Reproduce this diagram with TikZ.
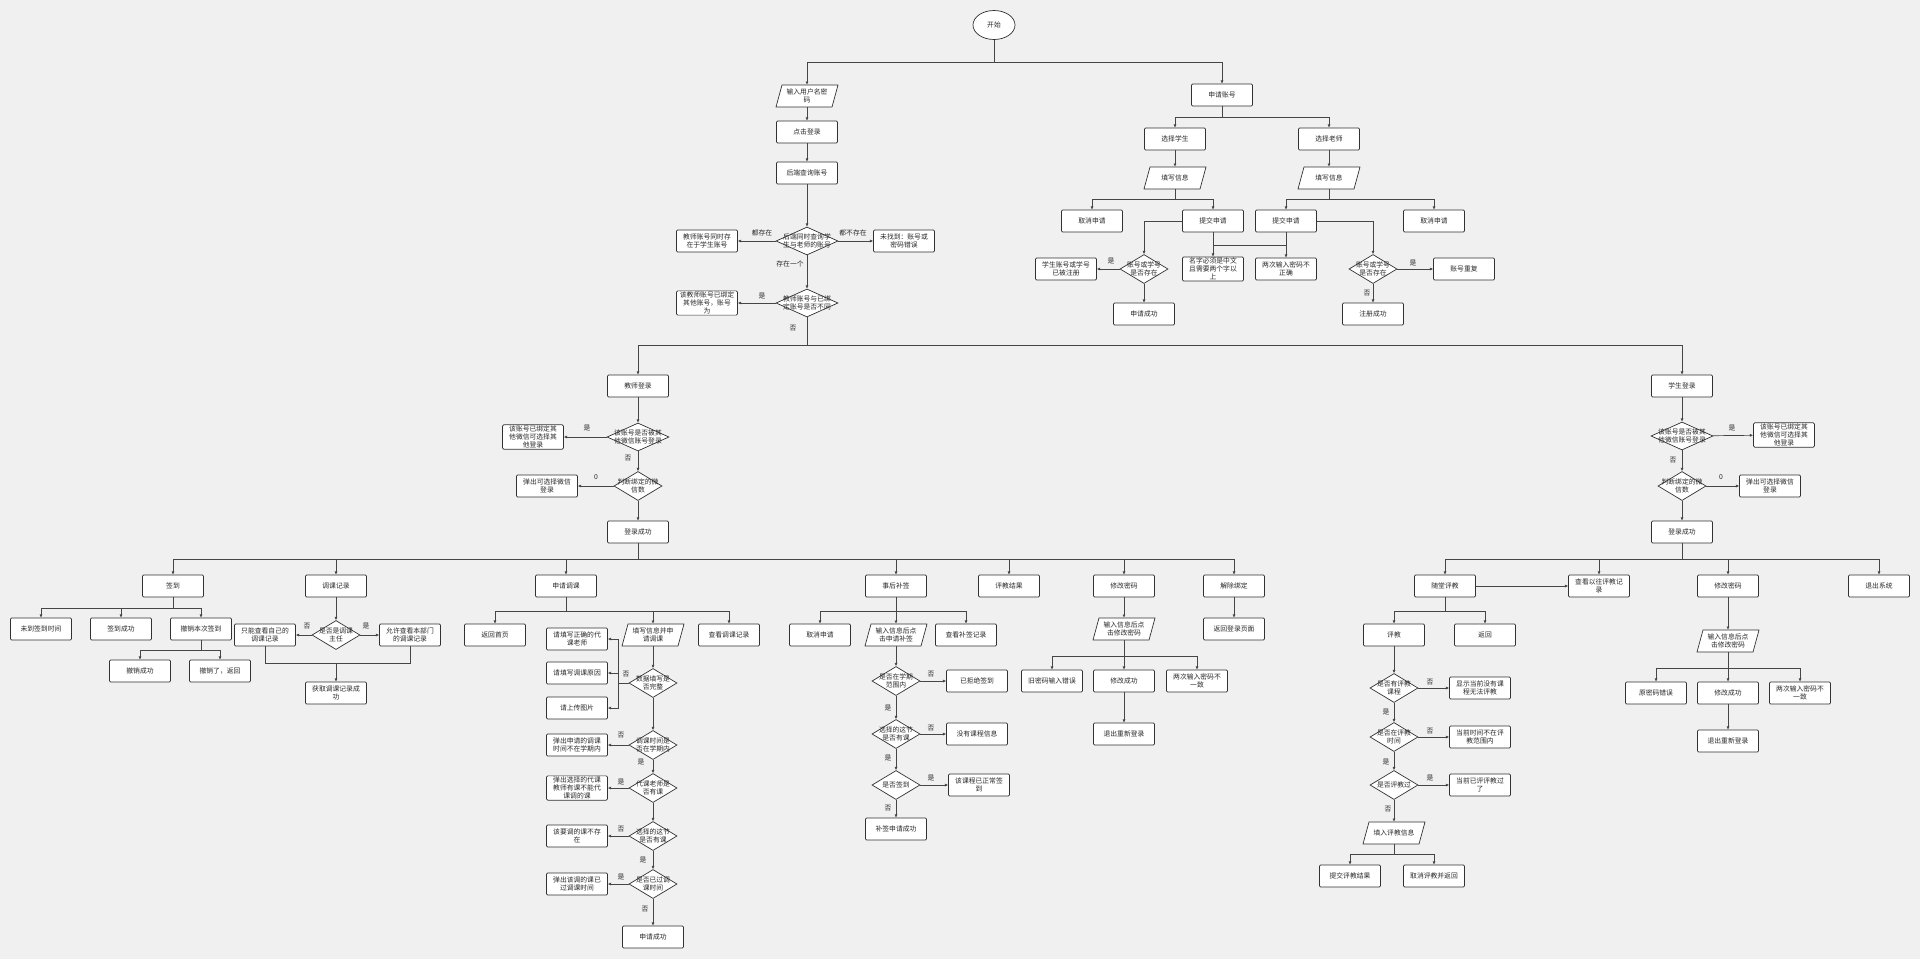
\documentclass[tikz,border=0pt]{standalone}
\usepackage{fontspec}
\newfontfamily\cjk{Noto Sans CJK SC}
\usetikzlibrary{shapes.geometric,arrows.meta}
\definecolor{bgc}{RGB}{240,240,240}
\definecolor{boxc}{RGB}{50,50,50}
\definecolor{linec}{RGB}{70,70,70}
\definecolor{txtc}{RGB}{40,40,40}
\newcommand\fs{\cjk\fontsize{6.8}{8}\selectfont}
\newcommand\para[4]{\filldraw[fill=white,draw=boxc,line width=0.7pt] ({#2-25},{#3-11}) -- ({#2+31},{#3-11}) -- ({#2+25},{#3+11}) -- ({#2-31},{#3+11}) -- cycle; \node[ptxt] (#1) at (#2,#3) {#4};}
\newcommand\dianode[5][dia]{\node[#1] (#2) at (#3,#4) {}; \node[dtxt] (#2t) at (#3,#4) {#5};}
\begin{document}
\begin{tikzpicture}[x=1pt,y=-1pt,
 box/.style={draw=boxc,fill=white,line width=0.7pt,rounded corners=1.2pt,minimum width=61pt,minimum height=22pt,inner sep=1pt,align=center,font=\fs,text=txtc},
 ell/.style={ellipse,draw=boxc,fill=white,line width=0.7pt,minimum width=42pt,minimum height=29pt,inner sep=0pt,font=\fs,text=txtc},
 dia/.style={diamond,draw=boxc,fill=white,line width=0.7pt,minimum width=62pt,minimum height=28pt,inner sep=0pt},
 sdia/.style={dia,minimum width=48pt,minimum height=29pt},
 dtxt/.style={inner sep=0pt,align=center,font=\fs,text=txtc},
 ptxt/.style={minimum width=62pt,minimum height=22pt,inner sep=0pt,align=center,font=\fs,text=txtc},
 lbl/.style={inner sep=0pt,font=\fs,text=txtc},
 arr/.style={draw=linec,line width=0.7pt,-{Latex[length=3.2pt,width=3pt]}},
 ln/.style={draw=linec,line width=0.7pt},
]
\fill[bgc] (0,0) rectangle (1920,959);
\useasboundingbox (0,0) rectangle (1920,959);

% ---------- top ----------
\node[ell] (start) at (994,25) {开始};
\coordinate (j0) at (994,62);
\draw[ln] (start) -- (j0);
\para{in1}{807}{96}{输入用户名密\\码}
\node[box] (click) at (807,132) {点击登录};
\node[box] (query) at (807,173) {后端查询账号};
\dianode{q1}{807}{241}{后端同时查询学\\生与老师的账号}
\node[box] (both) at (707,241) {教师账号同时存\\在于学生账号};
\node[box] (nf) at (904,241) {未找到：账号或\\密码错误};
\dianode{q2}{807}{303}{教师账号与已绑\\定账号是否不同}
\node[box] (bound) at (707,303) {该教师账号已绑定\\其他账号，账号\\为};
\draw[arr] (j0) -| (in1);
\draw[arr] (in1) -- (click);
\draw[arr] (click) -- (query);
\draw[arr] (query) -- (q1);
\draw[arr] (q1) -- (both);
\draw[arr] (q1) -- (nf);
\draw[arr] (q1) -- (q2);
\draw[arr] (q2) -- (bound);
\node[lbl] (l1) at (762,233) {都存在};
\node[lbl] (l2) at (853,233) {都不存在};
\node[lbl] (l3) at (790,264) {存在一个};
\node[lbl] (l4) at (762,296) {是};
\node[lbl] (l5) at (793,328) {否};
\coordinate (j1) at (807,345);
\draw[ln] (q2) -- (j1);

% ---------- apply account ----------
\node[box] (apply) at (1222,95) {申请账号};
\draw[arr] (j0) -| (apply);
\coordinate (j4) at (1222,117);
\node[box] (selS) at (1175,139) {选择学生};
\node[box] (selT) at (1329,139) {选择老师};
\draw[ln] (apply) -- (j4);
\draw[arr] (j4) -| (selS);
\draw[arr] (j4) -| (selT);
\para{fillS}{1175}{178}{填写信息}
\para{fillT}{1329}{178}{填写信息}
\draw[arr] (selS) -- (fillS);
\draw[arr] (selT) -- (fillT);
\coordinate (j5) at (1175,199);
\coordinate (j6) at (1329,199);
\node[box] (canS) at (1092,221) {取消申请};
\node[box] (subS) at (1213,221) {提交申请};
\node[box] (subT) at (1286,221) {提交申请};
\node[box] (canT) at (1434,221) {取消申请};
\draw[ln] (fillS) -- (j5);
\draw[ln] (fillT) -- (j6);
\draw[arr] (j5) -| (canS);
\draw[arr] (j5) -| (subS);
\draw[arr] (j6) -| (subT);
\draw[arr] (j6) -| (canT);
\dianode[sdia]{sd3}{1144}{269}{账号或学号\\是否存在}
\node[box] (sreg) at (1066,269) {学生账号或学号\\已被注册};
\node[box] (sok3) at (1144,314) {申请成功};
\node[box] (name) at (1213,269) {名字必须是中文\\且需要两个字以\\上};
\node[box] (pwd2) at (1286,269) {两次输入密码不\\正确};
\dianode[sdia]{td3}{1373}{269}{账号或学号\\是否存在}
\node[box] (dup) at (1464,269) {账号重复};
\node[box] (tok3) at (1373,314) {注册成功};
\draw[arr] (subS) -| (sd3);
\draw[arr] (sd3) -- (sreg);
\draw[arr] (sd3) -- (sok3);
\draw[arr] (subS) -- (name);
\draw[arr] (subT) -- (pwd2);
\coordinate (jn1) at (1213,245);
\coordinate (jn2) at (1286,245);
\draw[ln] (jn1) -- (jn2);
\draw[arr] (subT) -| (td3);
\draw[arr] (td3) -- (dup);
\draw[arr] (td3) -- (tok3);
\node[lbl] (l6) at (1111,261) {是};
\node[lbl] (l7) at (1413,263) {是};
\node[lbl] (l8) at (1367,293) {否};

% ---------- teacher login ----------
\node[box] (tlogin) at (638,386) {教师登录};
\node[box] (slogin) at (1682,386) {学生登录};
\draw[arr] (j1) -| (tlogin);
\draw[arr] (j1) -| (slogin);
\dianode{td1}{638}{437}{该账号是否被其\\他微信账号登录}
\node[box] (tb1) at (533,437) {该账号已绑定其\\他微信可选择其\\他登录};
\dianode[sdia]{td2}{638}{486}{判断绑定的微\\信数}
\node[box] (tb2) at (547,486) {弹出可选择微信\\登录};
\node[box] (tok) at (638,532) {登录成功};
\draw[arr] (tlogin) -- (td1);
\draw[arr] (td1) -- (tb1);
\draw[arr] (td1) -- (td2);
\draw[arr] (td2) -- (tb2);
\draw[arr] (td2) -- (tok);
\node[lbl] (l9) at (587,428) {是};
\node[lbl] (l10) at (628,458) {否};
\node[lbl] (l11) at (596,477) {0};

% ---------- student login ----------
\dianode{sd1}{1682}{436}{该账号是否被其\\他微信账号登录}
\node[box] (sb1) at (1784,435) {该账号已绑定其\\他微信可选择其\\他登录};
\dianode[sdia]{sd2}{1682}{486}{判断绑定的微\\信数}
\node[box] (sb2) at (1770,486) {弹出可选择微信\\登录};
\node[box] (sok) at (1682,532) {登录成功};
\draw[arr] (slogin) -- (sd1);
\draw[arr] (sd1) -- (sb1);
\draw[arr] (sd1) -- (sd2);
\draw[arr] (sd2) -- (sb2);
\draw[arr] (sd2) -- (sok);
\node[lbl] (l12) at (1732,428) {是};
\node[lbl] (l13) at (1673,460) {否};
\node[lbl] (l14) at (1721,477) {0};

% ---------- teacher menu ----------
\coordinate (j2) at (638,559);
\draw[ln] (tok) -- (j2);
\node[box] (sign) at (173,586) {签到};
\node[box] (trec) at (336,586) {调课记录};
\node[box] (tapp) at (566,586) {申请调课};
\node[box] (late) at (896,586) {事后补签};
\node[box] (eres) at (1009,586) {评教结果};
\node[box] (tpw) at (1124,586) {修改密码};
\node[box] (unb) at (1234,586) {解除绑定};
\foreach \n in {sign,trec,tapp,late,eres,tpw,unb} {\draw[arr] (j2) -| (\n);}

% sign in
\coordinate (js) at (173,608);
\draw[ln] (sign) -- (js);
\node[box] (s1) at (41,629) {未到签到时间};
\node[box] (s2) at (121,629) {签到成功};
\node[box] (s3) at (201,629) {撤销本次签到};
\foreach \n in {s1,s2,s3} {\draw[arr] (js) -| (\n);}
\coordinate (js3) at (201,650);
\draw[ln] (s3) -- (js3);
\node[box] (s31) at (140,671) {撤销成功};
\node[box] (s32) at (220,671) {撤销了，返回};
\draw[arr] (js3) -| (s31);
\draw[arr] (js3) -| (s32);

% adjust record
\dianode[sdia]{tc}{336}{635}{是否是调课\\主任}
\node[box] (only) at (265,635) {只能查看自己的\\调课记录};
\node[box] (allow) at (410,635) {允许查看本部门\\的调课记录};
\node[box] (get) at (336,693) {获取调课记录成\\功};
\draw[arr] (trec) -- (tc);
\draw[arr] (tc) -- (only);
\draw[arr] (tc) -- (allow);
\coordinate (jm) at (336,663);
\draw[ln] (only.south) |- (jm);
\draw[ln] (allow.south) |- (jm);
\draw[arr] (jm) -- (get);
\node[lbl] (l15) at (307,626) {否};
\node[lbl] (l16) at (366,626) {是};

% apply adjustment
\coordinate (ja) at (566,611);
\draw[ln] (tapp) -- (ja);
\node[box] (ret) at (495,635) {返回首页};
\para{afill}{653}{635}{填写信息并申\\请调课}
\node[box] (aview) at (729,635) {查看调课记录};
\draw[arr] (ja) -| (ret);
\draw[arr] (ja) -| (afill);
\draw[arr] (ja) -| (aview);
\dianode[sdia]{a1}{653}{683}{数据填写是\\否完整}
\node[box] (ab1) at (577,639) {请填写正确的代\\课老师};
\node[box] (ab2) at (577,673) {请填写调课原因};
\node[box] (ab3) at (577,708) {请上传图片};
\draw[arr] (afill) -- (a1);
\coordinate (ja1) at (618,683);
\draw[ln] (a1) -- (ja1);
\draw[arr] (ja1) |- (ab1);
\draw[arr] (ja1) |- (ab2);
\draw[arr] (ja1) |- (ab3);
\dianode[sdia]{a2}{653}{745}{调课时间是\\否在学期内}
\node[box] (ab4) at (577,745) {弹出申请的调课\\时间不在学期内};
\dianode[sdia]{a3}{653}{788}{代课老师是\\否有课}
\node[box] (ab5) at (577,788) {弹出选择的代课\\教师有课不能代\\课调的课};
\dianode[sdia]{a4}{653}{836}{选择的这节\\是否有课}
\node[box] (ab6) at (577,836) {该要调的课不存\\在};
\dianode[sdia]{a5}{653}{884}{是否已过调\\课时间}
\node[box] (ab7) at (577,884) {弹出该调的课已\\过调课时间};
\node[box] (aok) at (653,937) {申请成功};
\draw[arr] (a1) -- (a2);
\draw[arr] (a2) -- (ab4);
\draw[arr] (a2) -- (a3);
\draw[arr] (a3) -- (ab5);
\draw[arr] (a3) -- (a4);
\draw[arr] (a4) -- (ab6);
\draw[arr] (a4) -- (a5);
\draw[arr] (a5) -- (ab7);
\draw[arr] (a5) -- (aok);
\node[lbl] (l17) at (626,674) {否};
\node[lbl] (l18) at (621,735) {否};
\node[lbl] (l19) at (641,762) {是};
\node[lbl] (l20) at (621,782) {是};
\node[lbl] (l21) at (621,829) {否};
\node[lbl] (l22) at (643,860) {是};
\node[lbl] (l23) at (621,877) {是};
\node[lbl] (l24) at (645,909) {否};

% late sign
\coordinate (jl) at (896,611);
\draw[ln] (late) -- (jl);
\node[box] (lcan) at (820,635) {取消申请};
\para{lfill}{896}{635}{输入信息后点\\击申请补签}
\node[box] (lview) at (966,635) {查看补签记录};
\draw[arr] (jl) -| (lcan);
\draw[arr] (jl) -| (lfill);
\draw[arr] (jl) -| (lview);
\dianode[sdia]{b1}{896}{681}{是否在学期\\范围内}
\node[box] (bb1) at (977,681) {已拒绝签到};
\dianode[sdia]{b2}{896}{734}{选择的这节\\是否有课}
\node[box] (bb2) at (977,734) {没有课程信息};
\dianode[sdia]{b3}{896}{785}{是否签到}
\node[box] (bb3) at (979,785) {该课程已正常签\\到};
\node[box] (bok) at (896,829) {补签申请成功};
\draw[arr] (lfill) -- (b1);
\draw[arr] (b1) -- (bb1);
\draw[arr] (b1) -- (b2);
\draw[arr] (b2) -- (bb2);
\draw[arr] (b2) -- (b3);
\draw[arr] (b3) -- (bb3);
\draw[arr] (b3) -- (bok);
\node[lbl] (l25) at (931,674) {否};
\node[lbl] (l26) at (888,708) {是};
\node[lbl] (l27) at (931,728) {否};
\node[lbl] (l28) at (888,758) {是};
\node[lbl] (l29) at (931,778) {是};
\node[lbl] (l30) at (888,808) {否};

% teacher password
\para{tpfill}{1124}{629}{输入信息后点\\击修改密码}
\draw[arr] (tpw) -- (tpfill);
\coordinate (jtp) at (1124,656);
\draw[ln] (tpfill) -- (jtp);
\node[box] (tp1) at (1052,681) {旧密码输入错误};
\node[box] (tp2) at (1124,681) {修改成功};
\node[box] (tp3) at (1197,681) {两次输入密码不\\一致};
\foreach \n in {tp1,tp2,tp3} {\draw[arr] (jtp) -| (\n);}
\node[box] (tp4) at (1124,734) {退出重新登录};
\draw[arr] (tp2) -- (tp4);
\node[box] (unb1) at (1234,629) {返回登录页面};
\draw[arr] (unb) -- (unb1);

% ---------- student menu ----------
\coordinate (j3) at (1682,559);
\draw[ln] (sok) -- (j3);
\node[box] (eval) at (1445,586) {随堂评教};
\node[box] (hist) at (1599,586) {查看以往评教记\\录};
\node[box] (spw) at (1728,586) {修改密码};
\node[box] (quit) at (1879,586) {退出系统};
\foreach \n in {eval,hist,spw,quit} {\draw[arr] (j3) -| (\n);}
\draw[arr] (eval) -- (hist);
\coordinate (je) at (1445,611);
\draw[ln] (eval) -- (je);
\node[box] (ev1) at (1394,635) {评教};
\node[box] (ev2) at (1485,635) {返回};
\draw[arr] (je) -| (ev1);
\draw[arr] (je) -| (ev2);
\dianode[sdia]{e1}{1394}{688}{是否有评教\\课程}
\node[box] (eb1) at (1480,688) {显示当前没有课\\程无法评教};
\dianode[sdia]{e2}{1394}{737}{是否在评教\\时间}
\node[box] (eb2) at (1480,737) {当前时间不在评\\教范围内};
\dianode[sdia]{e3}{1394}{785}{是否评教过}
\node[box] (eb3) at (1480,785) {当前已评评教过\\了};
\para{efill}{1394}{833}{填入评教信息}
\draw[arr] (ev1) -- (e1);
\draw[arr] (e1) -- (eb1);
\draw[arr] (e1) -- (e2);
\draw[arr] (e2) -- (eb2);
\draw[arr] (e2) -- (e3);
\draw[arr] (e3) -- (eb3);
\draw[arr] (e3) -- (efill);
\coordinate (jef) at (1394,854);
\draw[ln] (efill) -- (jef);
\node[box] (es1) at (1350,876) {提交评教结果};
\node[box] (es2) at (1434,876) {取消评教并返回};
\draw[arr] (jef) -| (es1);
\draw[arr] (jef) -| (es2);
\node[lbl] (l31) at (1430,682) {否};
\node[lbl] (l32) at (1386,712) {是};
\node[lbl] (l33) at (1430,731) {否};
\node[lbl] (l34) at (1386,762) {是};
\node[lbl] (l35) at (1430,778) {是};
\node[lbl] (l36) at (1388,809) {否};

% student password
\para{spfill}{1728}{641}{输入信息后点\\击修改密码}
\draw[arr] (spw) -- (spfill);
\coordinate (jsp) at (1728,668);
\draw[ln] (spfill) -- (jsp);
\node[box] (sp1) at (1656,693) {原密码错误};
\node[box] (sp2) at (1728,693) {修改成功};
\node[box] (sp3) at (1800,693) {两次输入密码不\\一致};
\foreach \n in {sp1,sp2,sp3} {\draw[arr] (jsp) -| (\n);}
\node[box] (sp4) at (1728,741) {退出重新登录};
\draw[arr] (sp2) -- (sp4);
\end{tikzpicture}
\end{document}
